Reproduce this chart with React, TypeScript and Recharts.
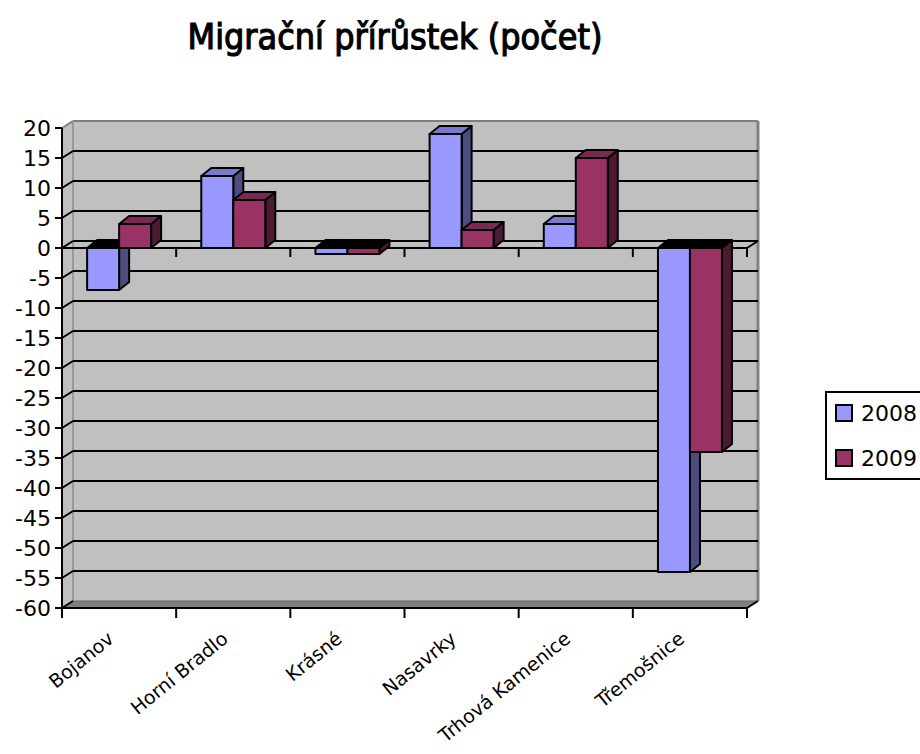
import { BarChart, Bar, XAxis, YAxis, CartesianGrid, Legend } from "recharts";

const CATEGORIES = ["Bojanov", "Horní Bradlo", "Krásné", "Nasavrky", "Trhová Kamenice", "Třemošnice"];
const VALUES_2008 = [-7, 12, -1, 19, 4, -54];
const VALUES_2009 = [4, 8, -1, 3, 15, -34];
const Y_TICKS = [20, 15, 10, 5, 0, -5, -10, -15, -20, -25, -30, -35, -40, -45, -50, -55, -60];

const data = CATEGORIES.map((name, i) => ({
  name,
  y2008: VALUES_2008[i],
  y2009: VALUES_2009[i],
}));

const FONT = "'DejaVu Sans', Verdana, sans-serif";

// depth of the walls and of the columns (pseudo 3D)
const DX = 11;
const DY = -7;
const BDX = 10;
const BDY = -8;

const WALL = "#C0C0C0";
const EDGE = "#808080";

function Column(props: any) {
  const { x, y, width, height, value, front, side, top } = props;
  if (x == null || y == null) return null;
  const h = Math.abs(height);
  const t = height < 0 ? y + height : y;
  const w = width;
  const topFill = value < 0 ? "#000" : top;
  return (
    <g stroke="#000" strokeWidth={2} strokeLinejoin="round">
      <polygon
        points={`${x + w},${t} ${x + w + BDX},${t + BDY} ${x + w + BDX},${t + h + BDY} ${x + w},${t + h}`}
        fill={side}
      />
      <polygon
        points={`${x},${t} ${x + BDX},${t + BDY} ${x + w + BDX},${t + BDY} ${x + w},${t}`}
        fill={topFill}
      />
      <rect x={x} y={t} width={w} height={h} fill={front} />
    </g>
  );
}

function GridLine(props: any) {
  const { x1, x2, y1, index, x, y, width, height } = props;
  const px = x ?? x1;
  const pw = width ?? x2 - x1;
  const py = y ?? 128;
  const ph = height ?? 480;
  const isTop = Math.abs(y1 - py) < 0.5;
  const isBottom = Math.abs(y1 - (py + ph)) < 0.5;
  const isZero = Y_TICKS[index] === 0;
  const band = pw / CATEGORIES.length;

  return (
    <g>
      {index === 0 && (
        <g>
          <rect x={px + DX} y={py + DY} width={pw} height={ph} fill={WALL} />
          <polygon
            points={`${px},${py} ${px + DX},${py + DY} ${px + DX},${py + ph + DY} ${px},${py + ph}`}
            fill={WALL}
          />
          <polygon
            points={`${px},${py + ph} ${px + DX},${py + ph + DY} ${px + pw + DX},${py + ph + DY} ${px + pw},${py + ph}`}
            fill={EDGE}
            stroke="#666"
            strokeWidth={1}
          />
          <line x1={px + DX} y1={py + DY} x2={px + pw + DX} y2={py + DY} stroke={EDGE} strokeWidth={2} />
          <line x1={px + pw + DX} y1={py + DY} x2={px + pw + DX} y2={py + ph + DY} stroke={EDGE} strokeWidth={3} />
          <line x1={px + DX} y1={py + DY} x2={px + DX} y2={py + ph + DY} stroke="#999" strokeWidth={2} />
          <line x1={px} y1={py} x2={px + DX} y2={py + DY} stroke={EDGE} strokeWidth={2} />
          <line x1={px + pw} y1={py + ph} x2={px + pw + DX} y2={py + ph + DY} stroke="#000" strokeWidth={2} />
        </g>
      )}
      {!isTop && !isBottom && (
        <g stroke="#000" strokeWidth={2}>
          <line x1={px} y1={y1} x2={px + DX} y2={y1 + DY} />
          <line x1={px + DX} y1={y1 + DY} x2={px + pw + DX} y2={y1 + DY} />
        </g>
      )}
      {isBottom && (
        <line x1={px} y1={y1} x2={px + DX} y2={y1 + DY} stroke="#000" strokeWidth={2} />
      )}
      {isZero && (
        <g stroke="#000" strokeWidth={2}>
          <line x1={px} y1={y1} x2={px + pw} y2={y1} />
          <line x1={px + pw} y1={y1} x2={px + pw + DX} y2={y1 + DY} />
          {CATEGORIES.map((c, i) => (
            <line key={c} x1={px + band * (i + 1)} y1={y1} x2={px + band * (i + 1)} y2={y1 + 9} />
          ))}
        </g>
      )}
    </g>
  );
}

function CategoryTick(props: any) {
  const { x, y, payload, index, width } = props;
  const half = payload && payload.offset > 0 ? payload.offset : (width ?? 685) / CATEGORIES.length / 2;
  const axisY = y - 10;
  const ax = x - 4;
  const ay = axisY + 33;
  return (
    <g>
      {index === 0 && (
        <line x1={x - half} y1={axisY} x2={x - half} y2={axisY + 10} stroke="#000" strokeWidth={2} />
      )}
      <line x1={x + half} y1={axisY} x2={x + half} y2={axisY + 10} stroke="#000" strokeWidth={2} />
      <text
        x={ax}
        y={ay}
        transform={`rotate(-39, ${ax}, ${ay})`}
        textAnchor="end"
        fontSize={19}
        fontFamily={FONT}
        fill="#000"
      >
        {payload.value}
      </text>
    </g>
  );
}

function LegendBox({ payload }: any) {
  return (
    <div
      style={{
        border: "2px solid #000",
        background: "#fff",
        padding: "6px 0 6px 8px",
        width: 130,
        fontFamily: FONT,
        fontSize: 22,
        color: "#000",
        boxSizing: "content-box",
      }}
    >
      {(payload || []).map((item: any, i: number) => (
        <div
          key={item.value}
          style={{ display: "flex", alignItems: "center", height: 28, marginTop: i === 0 ? 0 : 17 }}
        >
          <span
            style={{
              width: 14,
              height: 14,
              border: "2px solid #000",
              background: item.color,
              display: "inline-block",
            }}
          />
          <span style={{ marginLeft: 8 }}>{item.value}</span>
        </div>
      ))}
    </div>
  );
}

export default function App() {
  return (
    <div
      style={{
        position: "absolute",
        left: 0,
        top: 0,
        width: 920,
        height: 754,
        overflow: "hidden",
        background: "#fff",
      }}
    >
      <svg width={920} height={70} style={{ position: "absolute", left: 0, top: 0 }}>
        <text
          x={395}
          y={49}
          textAnchor="middle"
          fontFamily={FONT}
          fontSize={35}
          textLength={415}
          lengthAdjust="spacingAndGlyphs"
          fill="#000"
          stroke="#000"
          strokeWidth={1.2}
        >
          Migrační přírůstek (počet)
        </text>
      </svg>
      <div style={{ position: "absolute", left: 0, top: 0 }}>
        <BarChart
          width={920}
          height={754}
          data={data}
          margin={{ top: 128, right: 173, bottom: 0, left: 0 }}
          barCategoryGap="22%"
          barGap={0}
        >
          <CartesianGrid vertical={false} horizontal={(p: any) => <GridLine {...p} />} />
          <XAxis
            dataKey="name"
            interval={0}
            height={146}
            tickLine={false}
            tickSize={10}
            tickMargin={0}
            axisLine={{ stroke: "#000", strokeWidth: 2 }}
            tick={(p: any) => <CategoryTick {...p} />}
          />
          <YAxis
            type="number"
            domain={[-60, 20]}
            ticks={Y_TICKS}
            interval={0}
            width={62}
            tickSize={7}
            tickMargin={4}
            axisLine={{ stroke: "#000", strokeWidth: 2 }}
            tickLine={{ stroke: "#000", strokeWidth: 2 }}
            tick={{ fontSize: 22, fill: "#000", fontFamily: FONT }}
          />
          <Legend
            layout="vertical"
            align="center"
            verticalAlign="middle"
            content={(p: any) => <LegendBox {...p} />}
            wrapperStyle={{ position: "absolute", left: 825, top: 391, width: 140, height: "auto" }}
          />
          <Bar
            dataKey="y2008"
            name="2008"
            fill="#9999FF"
            isAnimationActive={false}
            shape={(p: any) => <Column {...p} front="#9999FF" side="#4D4D80" top="#7A7ACC" />}
          />
          <Bar
            dataKey="y2009"
            name="2009"
            fill="#993366"
            isAnimationActive={false}
            shape={(p: any) => <Column {...p} front="#993366" side="#4D1A33" top="#7A2952" />}
          />
        </BarChart>
      </div>
    </div>
  );
}
